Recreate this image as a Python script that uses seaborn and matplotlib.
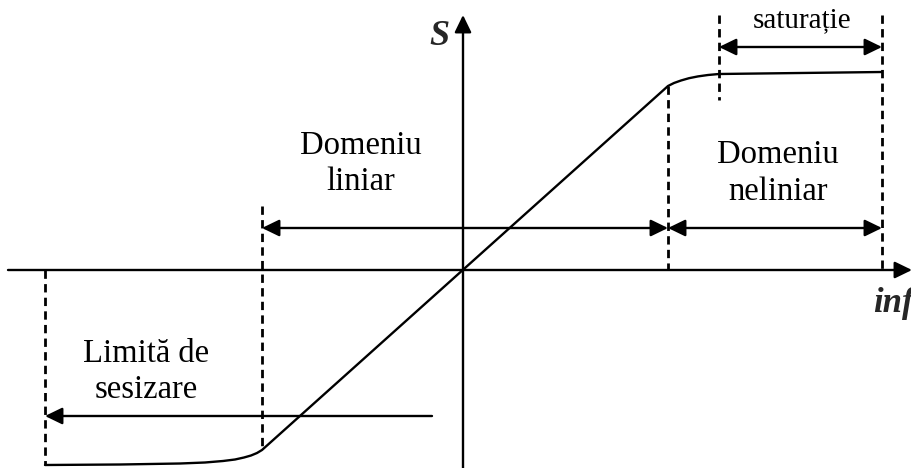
import matplotlib
matplotlib.use("Agg")
import matplotlib.pyplot as plt
import seaborn as sns

# Transfer characteristic S = f(inf), origin at the crossing of the axes (pixel units)
curve_x = [-418, -343, -283, -258, -240, -228, -219, -212, -206, -201,
           205, 211, 218, 226, 235, 245, 256, 337, 419]
curve_y = [-195, -194.5, -193.5, -192.5, -191, -189.5, -187.5, -185.5, -183, -180,
           184, 187, 189.5, 191.8, 193.6, 195, 196, 197, 198]

# dashed guide lines: x, y_from, y_to
guide_x = [-418, -201, 205, 256, 419]
guide_y0 = [0, 64, 184, 255, 255]
guide_y1 = [-195, -180, 0, 170, 0]

# range arrows: x_start, x_end, y, style
range_x0 = [-201, 205, 256, -31]
range_x1 = [205, 419, 419, -418]
range_y = [42, 42, 223, -146]
range_style = ["<|-|>", "<|-|>", "<|-|>", "-|>"]

# labels (one entry per line of text)
label_text = ["Domeniu", "liniar", "Domeniu", "neliniar", "Limită de", "sesizare", "saturație"]
label_x = [-102, -102, 315, 315, -317, -317, 339]
label_y = [116, 80, 107, 70, -92, -128, 243]
label_size = [23.5, 23.5, 23.5, 23.5, 23.5, 23.5, 21]

sns.set_theme(style="white")
plt.rcParams["font.family"] = ["Liberation Serif", "DejaVu Serif"]

fig = plt.figure(figsize=(9.12, 4.68), dpi=100)
ax = fig.add_axes([0, 0, 1, 1])
ax.set_xlim(-463, 449)
ax.set_ylim(-198, 270)
ax.axis("off")

lw = 1.7
dash = (0, (3.0, 1.9))
head = "head_length=0.7,head_width=0.34"

# coordinate axes
ax.annotate("", xy=(449, 0), xytext=(-455, 0),
            arrowprops=dict(arrowstyle="-|>," + head,
                            mutation_scale=15, color="black", lw=lw,
                            shrinkA=0, shrinkB=0))
ax.annotate("", xy=(0, 255), xytext=(0, -200),
            arrowprops=dict(arrowstyle="-|>," + head,
                            mutation_scale=15, color="black", lw=lw,
                            shrinkA=0, shrinkB=0))

# characteristic curve
sns.lineplot(x=curve_x, y=curve_y, sort=False, estimator=None,
             color="black", lw=lw, ax=ax)

# dashed guides
for gx, g0, g1 in zip(guide_x, guide_y0, guide_y1):
    ax.plot([gx, gx], [g0, g1], color="black", lw=2.0, linestyle=dash)

# range arrows
for x0, x1, y, st in zip(range_x0, range_x1, range_y, range_style):
    ax.annotate("", xy=(x1, y), xytext=(x0, y),
                arrowprops=dict(arrowstyle=f"{st}," + head,
                                mutation_scale=15, color="black", lw=lw,
                                shrinkA=0, shrinkB=0))

for t, x, y, s in zip(label_text, label_x, label_y, label_size):
    ax.text(x, y, t, ha="center", va="baseline", fontsize=s, color="black")

# axis names
ax.text(-24, 225, "S", ha="center", va="baseline", fontsize=26,
        fontweight="bold", fontstyle="italic")
ax.text(410, -42, "inf", ha="left", va="baseline", fontsize=25,
        fontweight="bold", fontstyle="italic")

fig.savefig("out.png", dpi=100, facecolor="white")
